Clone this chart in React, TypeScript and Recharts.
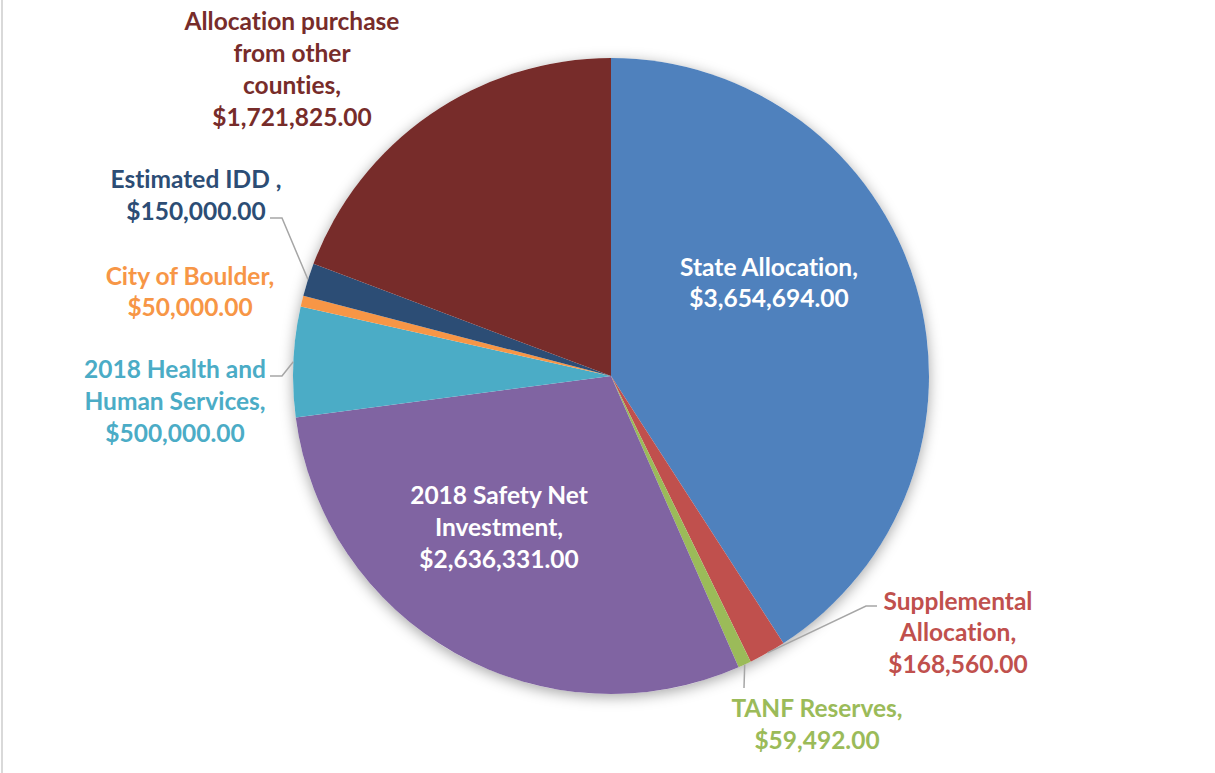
import React from 'react';
import { PieChart, Pie, Cell } from 'recharts';

const categories = [
  'State Allocation',
  'Supplemental Allocation',
  'TANF Reserves',
  '2018 Safety Net Investment',
  '2018 Health and Human Services',
  'City of Boulder',
  'Estimated IDD',
  'Allocation purchase from other counties',
];
const amounts = [3654694, 168560, 59492, 2636331, 500000, 50000, 150000, 1721825];
const labelLines = [
  ['State Allocation,', '$3,654,694.00'],
  ['Supplemental', 'Allocation,', '$168,560.00'],
  ['TANF Reserves,', '$59,492.00'],
  ['2018 Safety Net', 'Investment,', '$2,636,331.00'],
  ['2018 Health and', 'Human Services,', '$500,000.00'],
  ['City of Boulder,', '$50,000.00'],
  ['Estimated IDD ,', '$150,000.00'],
  ['Allocation purchase', 'from other', 'counties,', '$1,721,825.00'],
];

const colors = ['#4F81BD', '#C0504D', '#9BBB59', '#8064A2', '#4BACC6', '#F79646', '#2C4D75', '#772C2A'];
const labelColors = ['#FFFFFF', '#C0504D', '#9BBB59', '#FFFFFF', '#4BACC6', '#F79646', '#2C4D75', '#772C2A'];

// label layout: text center x, first line y, line height, leader elbow points
const labelLayout = [
  { x: 769, y: 266, lh: 31.5, leader: null },
  { x: 958, y: 600, lh: 31.5, leader: [[866, 606], [877, 606]] },
  { x: 817, y: 707, lh: 32, leader: [[744, 688]] },
  { x: 499, y: 494, lh: 32, leader: null },
  { x: 175, y: 368, lh: 32, leader: [[282, 376], [270, 376]] },
  { x: 190, y: 275, lh: 31.5, leader: null },
  { x: 196, y: 178, lh: 32, leader: [[282, 218], [270, 218]] },
  { x: 292, y: 20, lh: 32, leader: null },
];

const data = categories.map((name, i) => ({ name, value: amounts[i] }));
const bg = [{ name: 'bg', value: 1 }];

const RAD = Math.PI / 180;

const renderLabel = (props: any) => {
  const { cx, cy, midAngle, outerRadius, index } = props;
  const lay = labelLayout[index];
  const lines = labelLines[index];
  let leader = null;
  if (lay.leader) {
    const ex = cx + outerRadius * Math.cos(-midAngle * RAD);
    const ey = cy + outerRadius * Math.sin(-midAngle * RAD);
    const pts = [[ex, ey], ...lay.leader].map((p) => p.join(',')).join(' ');
    leader = <polyline points={pts} fill="none" stroke="#A6A6A6" strokeWidth={1.5} />;
  }
  return (
    <g key={`lbl-${index}`}>
      {leader}
      <text
        x={lay.x}
        y={lay.y}
        textAnchor="middle"
        fill={labelColors[index]}
        fontFamily="Lato, 'Open Sans', sans-serif"
        fontWeight={700}
        fontSize={24.5}
        style={{ fontVariantLigatures: 'none' }}
      >
        {lines.map((ln, j) => (
          <tspan key={j} x={lay.x} y={lay.y + j * lay.lh} dominantBaseline="central">
            {ln}
          </tspan>
        ))}
      </text>
    </g>
  );
};

export default function App() {
  return (
    <div style={{ position: 'fixed', left: 0, top: 0, width: 1215, height: 773, background: '#FFFFFF' }}>
      <div style={{ position: 'absolute', left: 1, top: 0, width: 2, height: 773, background: '#D9D9D9' }} />
      <PieChart width={1215} height={773} margin={{ top: 0, right: 0, bottom: 0, left: 0 }}>
        <Pie
          data={bg}
          dataKey="value"
          cx={611}
          cy={376}
          outerRadius={318}
          startAngle={90}
          endAngle={-270}
          stroke="none"
          isAnimationActive={false}
        >
          <Cell fill="#FFFFFF" style={{ filter: 'drop-shadow(0px 3px 7px rgba(0,0,0,0.35))' }} />
        </Pie>
        <Pie
          data={data}
          dataKey="value"
          nameKey="name"
          cx={611}
          cy={376}
          outerRadius={318}
          startAngle={90}
          endAngle={-270}
          stroke="none"
          labelLine={false}
          label={renderLabel}
          isAnimationActive={false}
        >
          {data.map((d, i) => (
            <Cell key={d.name} fill={colors[i]} />
          ))}
        </Pie>
      </PieChart>
    </div>
  );
}
